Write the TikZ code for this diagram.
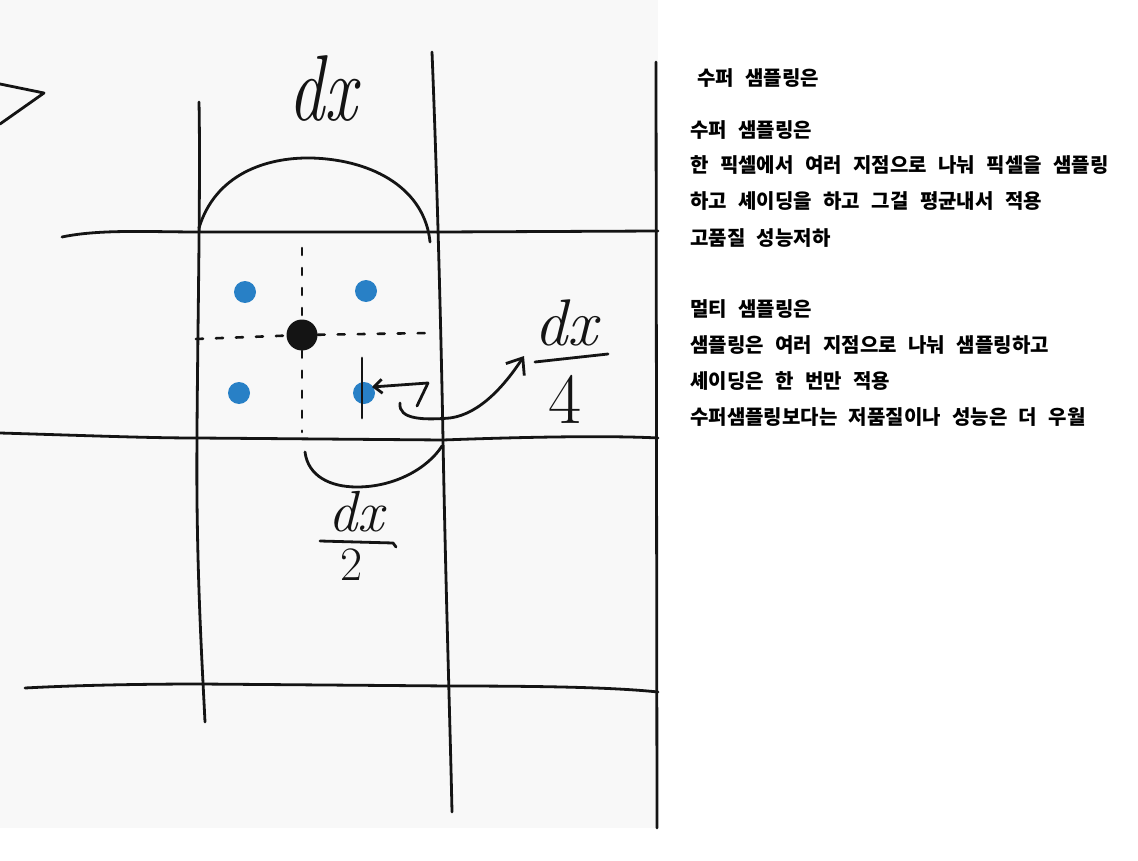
\documentclass[tikz,border=0pt]{standalone}
\usepackage{fontspec}
\newfontfamily\krfont{Noto Sans CJK KR}[WordSpace=2.5]
\usetikzlibrary{arrows.meta}
\definecolor{paper}{RGB}{248,248,248}
\definecolor{dotblue}{RGB}{40,128,198}
\definecolor{ink}{RGB}{20,20,20}
\begin{document}
\begin{tikzpicture}[x=1pt,y=-1pt,line cap=round,line join=round,
  pen/.style={draw=ink,line width=2.8pt},
  dashpen/.style={draw=ink,line width=2.6pt,dash pattern=on 7pt off 13pt},
  blob/.style={circle,fill=dotblue,inner sep=0pt,minimum size=22pt},
  bigblob/.style={circle,fill=ink,inner sep=0pt,minimum size=31pt},
  hand/.style={inner sep=0pt,text=ink},
  note/.style={anchor=west,inner sep=0pt,text=black,font=\krfont\bfseries\fontsize{20}{20}\selectfont}]

\useasboundingbox (0,0) rectangle (1138,861);
\fill[paper] (0,0) rectangle (658,828);

% grid lines
\draw[pen] (62,237) .. controls (100,229) and (150,232) .. (200,232) -- (440,232) -- (658,231);
\draw[pen] (0,433) .. controls (100,436) and (150,438) .. (198,438) -- (443,440) .. controls (550,436) and (620,436) .. (658,438);
\draw[pen] (25,688) .. controls (80,685) and (150,684) .. (200,684) -- (450,686) .. controls (560,686) and (620,688) .. (658,692);
\draw[pen] (199,102) .. controls (201,200) and (196,400) .. (197,500) .. controls (198,600) and (203,680) .. (205,722);
\draw[pen] (432,52) .. controls (438,200) and (442,380) .. (443,440) .. controls (446,600) and (450,720) .. (452,812);
\draw[pen] (656,62) -- (657,828);

% partial mark at top left
\draw[pen] (0,84) -- (44,93) -- (0,124);

% arcs
\draw[pen] (199,228) .. controls (215,175) and (265,157) .. (312,158) .. controls (375,160) and (425,190) .. (430,242);
\draw[pen] (305,452) .. controls (308,476) and (330,487) .. (357,487) .. controls (395,487) and (428,468) .. (442,446);

% sample points
\node[bigblob] (c) at (302,335) {};
\node[blob] (b1) at (245,292) {};
\node[blob] (b2) at (366,291) {};
\node[blob] (b3) at (239,393) {};
\node[blob] (b4) at (364,393) {};

% dashed cross
\draw[dashpen] (302,248) -- (c);
\draw[dashpen] (c) -- (302,432);
\draw[dashpen] (196,339) -- (c);
\draw[dashpen] (c) -- (430,333);

% labels
\node[hand,anchor=base,font=\fontsize{72}{72}\selectfont\itshape] (dx) at (323,121) {\scalebox{1}[1.3]{dx}};
\node[hand,anchor=base,font=\fontsize{66}{66}\selectfont\itshape] (q4n) at (566,345) {dx};
\node[hand,anchor=base,font=\fontsize{72}{72}\selectfont] (q4d) at (565,423) {4};
\draw[pen] (535,362) -- (608,354);
\node[hand,anchor=base,font=\fontsize{58}{58}\selectfont\itshape] (q2n) at (356,531) {dx};
\node[hand,anchor=base,font=\fontsize{48}{48}\selectfont] (q2d) at (352,580) {2};
\draw[pen] (320,541) -- (393,543) -- (396,547);

% distance mark
\draw[pen] (362,358) -- (362,418);
\coordinate (m) at (428,383);
\coordinate (mt) at (372,387);
\draw[pen,-{Straight Barb[length=8pt,width=14pt]}] (m) -- (mt);
\draw[pen] (m) -- (417,406);
\coordinate (s) at (400,403);
\coordinate (tip) at (524,356);
\draw[pen,-{Straight Barb[length=14pt,width=22pt]}] (s) .. controls (398,420) and (425,420) .. (450,418) .. controls (480,414) and (505,385) .. (tip);

% notes
\node[note] (t0) at (697,78) {수퍼 샘플링은};
\node[note] (t1) at (690,130) {수퍼 샘플링은};
\node[note] (t2) at (690,165) {한 픽셀에서 여러 지점으로 나눠 픽셀을 샘플링};
\node[note] (t3) at (690,201) {하고 셰이딩을 하고 그걸 평균내서 적용};
\node[note] (t4) at (690,238) {고품질 성능저하};
\node[note] (t5) at (690,309) {멀티 샘플링은};
\node[note] (t6) at (690,345) {샘플링은 여러 지점으로 나눠 샘플링하고};
\node[note] (t7) at (690,381) {셰이딩은 한 번만 적용};
\node[note] (t8) at (690,417) {수퍼샘플링보다는 저품질이나 성능은 더 우월};
\end{tikzpicture}
\end{document}
